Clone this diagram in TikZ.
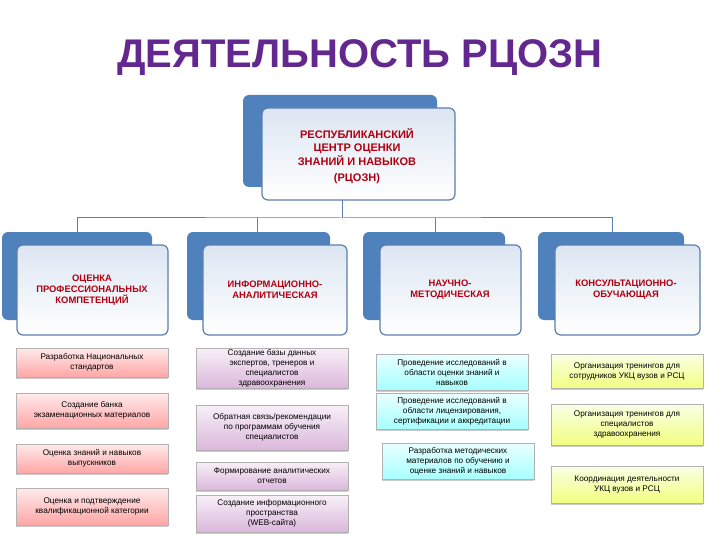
\documentclass[tikz,border=0pt]{standalone}
\usepackage{fontspec}
\setmainfont{Liberation Sans}
\usetikzlibrary{shadows}
\definecolor{ttl}{HTML}{63288F}
\definecolor{hd}{HTML}{B00010}
\definecolor{bb}{HTML}{4F81BD}
\definecolor{fr}{HTML}{5B7FAF}
\tikzset{x=1pt,y=-1pt,
 back/.style={fill=bb,rounded corners=6pt},
 front/.style={draw=fr,line width=1.2pt,rounded corners=6pt,top color=white!80!bb,bottom color=white},
 hdtext/.style={font=\bfseries\fontsize{9.4}{11}\selectfont,text=hd,align=center},
 item/.style={draw=gray!60,line width=0.3pt,align=center,font=\fontsize{8.2}{10}\selectfont,inner sep=1pt,drop shadow={shadow xshift=0pt,shadow yshift=-1.5pt,opacity=0.4}},
 pk/.style={item,top color=red!8,bottom color=red!35},
 pu/.style={item,top color=violet!6,bottom color=violet!28},
 bl/.style={item,top color=cyan!8,bottom color=cyan!35},
 gr/.style={item,top color=lime!10,bottom color=lime!40!yellow!50},
 conn/.style={draw=fr,line width=1pt}}
% \itm{name}{x1}{y1}{x2}{y2}{style}{text}
\newcommand{\itm}[7]{\node[#6,minimum width={#4-#2},minimum height={#5-#3}] (#1) at ({(#2+#4)/2},{(#3+#5)/2}) {#7};}
\newcommand{\hdr}[9]{%
 \fill[back] (#2,#3) rectangle (#4,#5);
 \draw[front] (#6,#7) rectangle (#8,#9);
 \coordinate (#1) at ({(#6+#8)/2},#7);}
\begin{document}
\begin{tikzpicture}
\useasboundingbox (0,0) rectangle (720,540);
\fill[white] (0,0) rectangle (720,540);
\node[font=\bfseries\fontsize{40}{44}\selectfont,text=ttl] (title) at (360,58) {ДЕЯТЕЛЬНОСТЬ РЦОЗН};
% top box
\fill[back] (243,95) rectangle (437,187);
\draw[front] (262,108) rectangle (455,200);
\node[hdtext,font=\bfseries\fontsize{11}{13.5}\selectfont] (top) at (357,156) {РЕСПУБЛИКАНСКИЙ\\ЦЕНТР ОЦЕНКИ\\ЗНАНИЙ И НАВЫКОВ\\[3pt](РЦОЗН)};
\coordinate (topb) at (342,200);
% headers
\hdr{h1}{2}{232}{152}{320}{17}{245}{168}{335}
\hdr{h2}{187}{232}{330}{320}{203}{245}{347}{335}
\hdr{h3}{363}{232}{505}{320}{380}{245}{521}{335}
\hdr{h4}{538}{232}{684}{320}{555}{245}{700}{335}
\node[hdtext] (t1) at (92,290) {ОЦЕНКА\\ПРОФЕССИОНАЛЬНЫХ\\КОМПЕТЕНЦИЙ};
\node[hdtext] (t2) at (275,290) {ИНФОРМАЦИОННО-\\АНАЛИТИЧЕСКАЯ};
\node[hdtext] (t3) at (450,290) {НАУЧНО-\\МЕТОДИЧЕСКАЯ};
\node[hdtext] (t4) at (626,290) {КОНСУЛЬТАЦИОННО-\\ОБУЧАЮЩАЯ};
\coordinate (j) at (342,218);
\coordinate (v1) at (77,232);\coordinate (v2) at (257,232);\coordinate (v3) at (435,232);\coordinate (v4) at (612,232);
\draw[conn] (topb) -- (j);
\draw[conn] (v1) |- (j) -| (v4);
\draw[conn] (v2) -- (v2|-j);
\draw[conn] (v3) -- (v3|-j);
% items
\itm{a1}{16}{348}{168}{377}{pk}{Разработка Национальных\\стандартов}
\itm{a2}{16}{393}{168}{428}{pk}{Создание банка\\экзаменационных материалов}
\itm{a3}{16}{444}{168}{473}{pk}{Оценка знаний и навыков\\выпускников}
\itm{a4}{16}{488}{168}{525}{pk}{Оценка и подтверждение\\квалификационной категории}
\itm{b1}{196}{348}{348}{388}{pu}{Создание базы данных\\экспертов, тренеров и\\специалистов\\здравоохранения}
\itm{b2}{196}{405}{348}{450}{pu}{Обратная связь/рекомендации\\по программам обучения\\специалистов}
\itm{b3}{196}{462}{348}{490}{pu}{Формирование аналитических\\отчетов}
\itm{b4}{196}{495}{348}{532}{pu}{Создание информационного\\пространства\\(WEB-сайта)}
\itm{c1}{376}{354}{528}{390}{bl}{Проведение исследований в\\области оценки знаний и\\навыков}
\itm{c2}{376}{393}{528}{429}{bl}{Проведение исследований в\\области лицензирования,\\сертификации и аккредитации}
\itm{c3}{382}{443}{534}{479}{bl}{Разработка методических\\материалов по обучению и\\оценке знаний и навыков}
\itm{d1}{551}{354}{703}{388}{gr}{Организация тренингов для\\сотрудников УКЦ вузов и РСЦ}
\itm{d2}{551}{404}{703}{445}{gr}{Организация тренингов для\\специалистов\\здравоохранения}
\itm{d3}{551}{466}{703}{503}{gr}{Координация деятельности\\УКЦ вузов и РСЦ}
\end{tikzpicture}
\end{document}
